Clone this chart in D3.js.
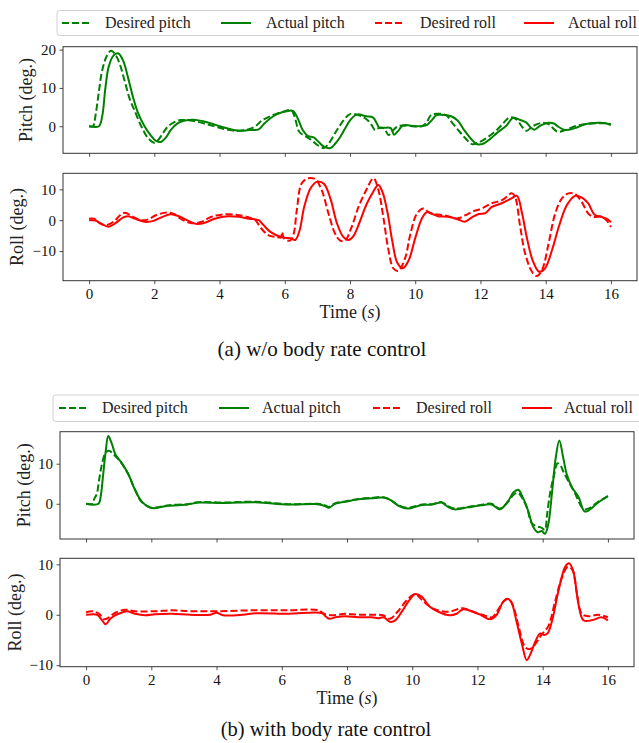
<!DOCTYPE html>
<html><head><meta charset="utf-8">
<script src="https://cdn.jsdelivr.net/npm/d3@7/dist/d3.min.js"></script>
<style>
html,body{margin:0;padding:0;background:#fff;}
svg{display:block;}
</style></head>
<body>
<script>
// ---------- data (time in s, angle in deg) ----------
const xTicks = [0,2,4,6,8,10,12,14,16];
const pitchTicksA = [0,10,20];
const rollTicksA = [-10,0,10];
const pitchTicksB = [0,10];
const rollTicksB = [-10,0,10];
const legendLabels = ["Desired pitch","Actual pitch","Desired roll","Actual roll"];
const captions = ["(a) w/o body rate control","(b) with body rate control"];

const aPitchActual = [[0,0],[0.3,0],[0.4,2.5],[0.5,10],[0.6,15.5],[0.75,18.5],[0.9,19.0],[1.05,17],[1.2,12.5],[1.35,7.5],[1.5,3.5],[1.7,0],[1.9,-2.5],[2.05,-3.8],[2.2,-4.1],[2.35,-3.0],[2.5,-1.0],[2.7,0.7],[2.9,1.4],[3.2,1.7],[3.5,1.3],[3.75,0.7],[4.0,0],[4.25,-0.6],[4.6,-1.2],[4.9,-1.0],[5.2,-0.8],[5.35,0.5],[5.55,2.0],[5.75,3.1],[6.05,3.9],[6.25,4.0],[6.4,2.0],[6.55,-1.0],[6.7,-2.5],[6.9,-3.0],[7.05,-4.2],[7.2,-5.3],[7.4,-5.7],[7.55,-4.5],[7.7,-2.8],[7.85,-0.6],[8.0,1.5],[8.15,2.8],[8.25,3.1],[8.5,2.6],[8.7,2.3],[8.82,0.8],[8.9,-0.4],[9.05,-0.4],[9.25,-0.5],[9.35,-2.2],[9.48,-1.2],[9.62,0.2],[10.05,0],[10.35,0.3],[10.5,1.5],[10.65,2.9],[10.8,3.0],[11.1,2.6],[11.3,1.5],[11.5,-1.0],[11.7,-3.2],[11.9,-4.7],[12.1,-4.5],[12.3,-3.3],[12.5,-1.8],[12.8,0.2],[13.0,2.2],[13.2,1.7],[13.4,1.0],[13.55,-0.4],[13.65,-0.9],[13.85,0.2],[14.1,0.9],[14.25,0.7],[14.4,-0.2],[14.6,-1.0],[14.9,-0.5],[15.2,0.5],[15.6,0.9],[15.85,0.8],[16.0,0.3]];
const aPitchDesired = [[0,0],[0.12,0],[0.2,3],[0.3,9],[0.4,14.5],[0.55,18.5],[0.68,19.7],[0.82,18.5],[0.95,16],[1.1,11.5],[1.25,7],[1.4,4],[1.6,0],[1.8,-3],[2.0,-4.3],[2.1,-3.8],[2.25,-2.0],[2.4,-0.2],[2.6,1.0],[2.8,1.6],[3.1,1.5],[3.4,1.0],[3.7,0.3],[4.0,-0.4],[4.3,-1.0],[4.6,-1.2],[4.9,-0.8],[5.1,0],[5.3,1.5],[5.55,2.6],[5.95,3.8],[6.2,4.2],[6.3,2.5],[6.45,-1.5],[6.65,-2.7],[6.8,-3.5],[7.0,-4.9],[7.2,-5.7],[7.35,-4.5],[7.6,-1.0],[7.8,1.5],[7.95,2.9],[8.05,3.3],[8.4,2.4],[8.55,1.5],[8.67,0.2],[8.77,-1.0],[8.9,-0.4],[9.05,-0.6],[9.18,-2.3],[9.33,-1.0],[9.5,0.1],[10.2,0],[10.35,1.0],[10.5,3.0],[10.95,2.9],[11.07,1.6],[11.3,-0.8],[11.5,-2.8],[11.75,-4.7],[11.95,-4.2],[12.2,-3.0],[12.5,-1.0],[12.7,0.8],[12.9,2.3],[13.1,1.8],[13.3,-0.4],[13.42,-1.2],[13.6,0],[13.9,0.9],[14.1,0.5],[14.35,-1.4],[14.6,-1.0],[14.9,0],[15.2,0.5],[15.6,0.8],[15.9,0.7],[16.0,0.5]];
const aRollActual = [[0,0],[0.2,-0.1],[0.35,-1.0],[0.6,-2.1],[0.8,-1.0],[1.05,0.9],[1.2,1.3],[1.4,0.5],[1.7,-0.5],[1.95,-0.3],[2.25,1.1],[2.5,1.9],[2.75,1.3],[3.05,-0.2],[3.3,-1.2],[3.55,-0.8],[3.85,0.5],[4.25,1.3],[4.6,1.1],[4.9,0.5],[5.2,0],[5.35,-1.6],[5.55,-3.7],[5.8,-5.1],[6.0,-5.7],[6.2,-5.9],[6.32,-6.4],[6.45,-3.5],[6.6,4.5],[6.8,10.5],[7.0,12.5],[7.2,11.8],[7.4,7],[7.6,-1],[7.8,-5.5],[7.95,-6.4],[8.1,-5.2],[8.3,-0.5],[8.5,5],[8.7,9],[8.87,11.4],[9.0,9],[9.15,2.5],[9.3,-7],[9.45,-13.8],[9.62,-15.6],[9.8,-13],[10.0,-5.8],[10.2,0.5],[10.35,2.6],[10.5,2.1],[10.7,1.3],[11.0,1.1],[11.3,0.3],[11.52,-0.5],[11.75,1.0],[11.95,2.0],[12.15,2.3],[12.35,4.3],[12.65,5.5],[12.95,7.1],[13.12,7.9],[13.27,2.5],[13.42,-5.5],[13.6,-13],[13.8,-16.7],[13.98,-15.6],[14.2,-9.5],[14.4,-2.2],[14.65,4.9],[14.9,7.9],[15.1,7.4],[15.3,5.5],[15.5,1.8],[15.7,1.1],[15.9,0.3],[16.0,-0.7]];
const aRollDesired = [[0,0.5],[0.15,0.5],[0.3,-0.8],[0.5,-1.6],[0.75,-0.5],[0.95,1.6],[1.1,2.4],[1.35,1.1],[1.6,0],[1.8,0.2],[2.05,1.6],[2.38,2.5],[2.6,2.0],[2.85,0.2],[3.15,-1.0],[3.45,-0.5],[3.75,1.1],[4.05,1.8],[4.5,1.8],[4.9,0.9],[5.1,0],[5.25,-2.3],[5.5,-4.9],[5.75,-5.4],[5.88,-5.6],[5.92,-3.8],[5.97,-5.9],[6.16,-6.6],[6.27,-4.5],[6.37,3.3],[6.52,12.0],[6.72,13.6],[6.93,13.3],[7.13,9.8],[7.34,2.2],[7.54,-4.3],[7.7,-6.6],[7.85,-6.6],[8.05,-2.2],[8.26,4.3],[8.5,9.8],[8.72,13.6],[8.87,9.8],[9.02,1.1],[9.18,-9.7],[9.33,-15.6],[9.48,-16.4],[9.69,-12.3],[9.84,-5],[10.05,2.1],[10.25,3.8],[10.4,2.7],[10.6,2.0],[10.9,1.6],[11.3,0.6],[11.53,1.6],[11.74,2.7],[12.04,3.8],[12.35,5.5],[12.66,6.5],[12.96,8.7],[13.06,7.6],[13.22,-2.2],[13.37,-10.8],[13.58,-16.7],[13.73,-18.1],[13.89,-16.1],[14.09,-7.5],[14.29,2.1],[14.5,7.1],[14.7,8.7],[14.9,8.5],[15.1,6.0],[15.31,2.1],[15.46,1.1],[15.72,1.1],[15.88,-0.2],[16.0,-2.2]];

const bPitchActual = [[0,0],[0.38,0],[0.45,2.0],[0.52,7],[0.6,13],[0.68,16.9],[0.78,15.2],[0.9,12.3],[1.1,10.1],[1.3,7.3],[1.5,3.5],[1.7,0.6],[1.95,-0.9],[2.1,-1.1],[2.5,-0.5],[3.1,-0.2],[3.45,0.3],[4.2,0.2],[5.2,0.4],[6.2,-0.2],[7.1,-0.1],[7.3,-0.5],[7.45,-1.0],[7.63,0],[7.95,0.5],[8.35,1.1],[8.75,1.4],[9.15,1.5],[9.37,0.8],[9.58,-0.5],[9.88,-1.2],[10.3,-0.3],[10.6,-0.2],[10.9,0.3],[11.1,-0.8],[11.3,-1.4],[11.7,-0.9],[12.1,-0.4],[12.43,-0.2],[12.69,-1.4],[12.95,0.8],[13.1,2.8],[13.25,3.5],[13.4,1.4],[13.56,-1.9],[13.7,-5.6],[13.85,-7.1],[13.97,-6.8],[14.07,-7.5],[14.17,-5.2],[14.28,2.3],[14.4,11.5],[14.51,15.8],[14.63,11.5],[14.74,7.3],[14.9,4.1],[15.1,1.7],[15.28,-1.9],[15.4,-1.7],[15.7,0.3],[16.0,1.9]];
const bPitchDesired = [[0,0],[0.2,0],[0.25,1.2],[0.33,2.5],[0.4,6],[0.48,9.6],[0.6,12.8],[0.72,13.2],[0.82,12.5],[0.95,11.5],[1.1,10.0],[1.3,7.3],[1.5,3.5],[1.7,0.5],[1.95,-0.9],[2.1,-1.0],[2.5,-0.4],[3.1,-0.1],[3.45,0.4],[4.2,0.3],[5.2,0.5],[6.2,-0.1],[7.1,0],[7.3,-0.3],[7.45,-0.8],[7.63,0.1],[7.95,0.6],[8.35,1.2],[8.75,1.5],[9.15,1.6],[9.37,0.7],[9.58,-0.4],[9.88,-1.0],[10.3,-0.2],[10.6,-0.1],[10.9,0.4],[11.1,-0.6],[11.3,-1.2],[11.7,-0.8],[12.1,-0.3],[12.43,0],[12.69,-1.2],[12.95,0.6],[13.1,2.2],[13.25,2.7],[13.4,1.0],[13.52,-1.0],[13.66,-4.8],[13.81,-5.6],[13.97,-6.0],[14.07,-6.5],[14.13,-3],[14.22,2.3],[14.33,6.5],[14.46,10.1],[14.55,9.5],[14.63,8.1],[14.79,5.6],[14.98,2.8],[15.25,-1.3],[15.4,-1.2],[15.7,0.5],[16.0,1.9]];
const bRollActual = [[0,0],[0.34,0],[0.48,-1.0],[0.6,-1.9],[0.74,-0.8],[0.89,-0.1],[1.09,0.4],[1.25,0.7],[1.5,0.2],[1.81,-0.1],[2.12,0.1],[2.63,0.2],[3.2,0],[3.8,0],[4.0,0.4],[4.2,-0.1],[4.8,0],[5.2,0.3],[6.2,0.2],[7.24,0.3],[7.34,-0.3],[7.46,-0.8],[7.65,-0.5],[7.95,-0.3],[8.35,-0.5],[8.76,-0.5],[8.96,-0.7],[9.12,-0.5],[9.32,-1.4],[9.48,-1.1],[9.68,0.6],[9.88,2.6],[10.09,4.1],[10.29,3.6],[10.54,1.6],[10.8,0.6],[11.15,-0.1],[11.36,0.2],[11.56,1.1],[11.82,0.7],[12.12,-0.1],[12.38,-0.9],[12.58,-0.1],[12.79,2.6],[12.92,3.2],[13.04,2.5],[13.2,-1.4],[13.36,-5.7],[13.51,-9.0],[13.61,-8.0],[13.77,-5.4],[13.92,-3.7],[14.05,-4.0],[14.15,-3.7],[14.28,-1.4],[14.48,4.6],[14.69,9.5],[14.81,10.2],[14.94,8.6],[15.1,2.0],[15.25,-1.1],[15.5,-1.1],[15.8,-0.5],[16.0,-1.1]];
const bRollDesired = [[0,0.5],[0.2,0.7],[0.4,0.2],[0.56,-0.9],[0.7,-0.5],[0.9,0.4],[1.2,1.0],[1.5,0.7],[2.12,0.7],[2.63,0.9],[3.2,0.7],[4.0,0.7],[5.2,0.9],[6.2,0.9],[7.13,0.9],[7.29,0.2],[7.55,-0.1],[7.95,0.2],[8.35,0],[8.76,0],[9.1,-0.1],[9.32,-0.8],[9.55,0.6],[9.85,3.0],[10.09,4.1],[10.35,2.6],[10.65,1.2],[11.1,0.6],[11.56,1.3],[11.82,0.7],[12.2,-0.1],[12.45,-0.5],[12.6,0.7],[12.84,2.9],[12.95,3.1],[13.08,2.0],[13.25,-2.0],[13.46,-6.4],[13.61,-6.8],[13.82,-5.4],[13.97,-3.9],[14.17,-2.3],[14.38,2.6],[14.58,7.2],[14.77,9.5],[14.91,8.9],[15.04,4.6],[15.2,0.2],[15.4,-0.3],[15.7,0],[16.0,-0.5]];

// ---------- layout ----------
const W = 639, H = 743;
const GREEN = "#008000", RED = "#ff0000";
const FONT = "'Liberation Serif','Times New Roman',serif";

const panels = [
  {x0:63, x1:637, y0:46.7, y1:153.3, dom:[-7.07,20.77], ticks:pitchTicksA, label:"Pitch (deg.)", labelX:32, color:GREEN, des:aPitchDesired, act:aPitchActual, xlab:false},
  {x0:63, x1:637, y0:173.3, y1:280.7, dom:[-19.6,15.2], ticks:rollTicksA, label:"Roll (deg.)", labelX:23, color:RED, des:aRollDesired, act:aRollActual, xlab:true},
  {x0:60, x1:634, y0:431.7, y1:539, dom:[-8.8,18.0], ticks:pitchTicksB, label:"Pitch (deg.)", labelX:30, color:GREEN, des:bPitchDesired, act:bPitchActual, xlab:false},
  {x0:60, x1:634, y0:558.3, y1:666.7, dom:[-10.3,11.2], ticks:rollTicksB, label:"Roll (deg.)", labelX:21, color:RED, des:bRollDesired, act:bRollActual, xlab:true}
];

const svg = d3.select("body").append("svg").attr("width", W).attr("height", H)
  .style("font-family", FONT);

panels.forEach(p => {
  const x = d3.scaleLinear().domain([-0.8, 16.8]).range([p.x0, p.x1]);
  const y = d3.scaleLinear().domain(p.dom).range([p.y1, p.y0]);
  const g = svg.append("g");
  const line = d3.line().x(d => x(d[0])).y(d => y(d[1])).curve(d3.curveCatmullRom.alpha(0.5));

  g.append("path").datum(p.des).attr("d", line).attr("fill","none")
    .attr("stroke", p.color).attr("stroke-width", 2).attr("stroke-dasharray","7,3");
  g.append("path").datum(p.act).attr("d", line).attr("fill","none")
    .attr("stroke", p.color).attr("stroke-width", 2);

  // axes
  const xa = d3.axisBottom(x).tickValues(xTicks).tickSize(3.5).tickPadding(4)
    .tickFormat(p.xlab ? d3.format("d") : () => "");
  const gx = g.append("g").attr("transform", `translate(0,${p.y1})`).call(xa);
  const ya = d3.axisLeft(y).tickValues(p.ticks).tickSize(3.5).tickPadding(3.5)
    .tickFormat(d => d < 0 ? "\u2212" + Math.abs(d) : String(d));
  const gy = g.append("g").attr("transform", `translate(${p.x0},0)`).call(ya);
  [gx, gy].forEach(ga => {
    ga.select(".domain").remove();
    ga.selectAll(".tick line").attr("stroke", "#222").attr("stroke-width", 0.8);
    ga.selectAll(".tick text").attr("fill", "#111").style("font-family", FONT).style("font-size", "15px");
  });

  // frame
  g.append("rect").attr("x", p.x0).attr("y", p.y0).attr("width", p.x1 - p.x0).attr("height", p.y1 - p.y0)
    .attr("fill", "none").attr("stroke", "#333").attr("stroke-width", 1);

  // y label
  const cy = (p.y0 + p.y1) / 2;
  g.append("text").attr("transform", `translate(${p.labelX},${cy}) rotate(-90)`)
    .attr("text-anchor", "middle").style("font-size", "18px").attr("fill", "#222").text(p.label);

  if (p.xlab) {
    const t = g.append("text").attr("x", (p.x0 + p.x1) / 2).attr("y", p.y1 + 37.5)
      .attr("text-anchor", "middle").style("font-size", "18px").attr("fill", "#222");
    t.append("tspan").text("Time (");
    t.append("tspan").style("font-style", "italic").text("s");
    t.append("tspan").text(")");
  }
});

// legends
const legends = [
  {bx:57, by:10.5, bh:25, hx:[62,221,375,524], tx:[105,266,420,568], ty:28},
  {bx:53, by:395, bh:26.5, hx:[59,219,373,522], tx:[102,262,416,564], ty:413}
];
const legendStyle = [
  {c:GREEN, dash:"7,3"}, {c:GREEN, dash:null}, {c:RED, dash:"7,3"}, {c:RED, dash:null}
];
legends.forEach(L => {
  const g = svg.append("g");
  g.append("rect").attr("x", L.bx).attr("y", L.by).attr("width", W + 10 - L.bx).attr("height", L.bh)
    .attr("rx", 3).attr("fill", "#fff").attr("fill-opacity", 0.8).attr("stroke", "#d0d0d0").attr("stroke-width", 1);
  legendLabels.forEach((lab, i) => {
    const yy = L.ty - 5;
    g.append("line").attr("x1", L.hx[i]).attr("x2", L.hx[i] + 30).attr("y1", yy).attr("y2", yy)
      .attr("stroke", legendStyle[i].c).attr("stroke-width", 2)
      .attr("stroke-dasharray", legendStyle[i].dash);
    g.append("text").attr("x", L.tx[i]).attr("y", L.ty).style("font-size", "16px").attr("fill", "#222").text(lab);
  });
});

// captions
svg.append("text").attr("x", 322).attr("y", 356).attr("text-anchor", "middle")
  .style("font-size", "21px").attr("fill", "#111").text(captions[0]);
svg.append("text").attr("x", 326).attr("y", 736).attr("text-anchor", "middle")
  .style("font-size", "20.5px").attr("fill", "#111").text(captions[1]);
</script>
</body></html>
